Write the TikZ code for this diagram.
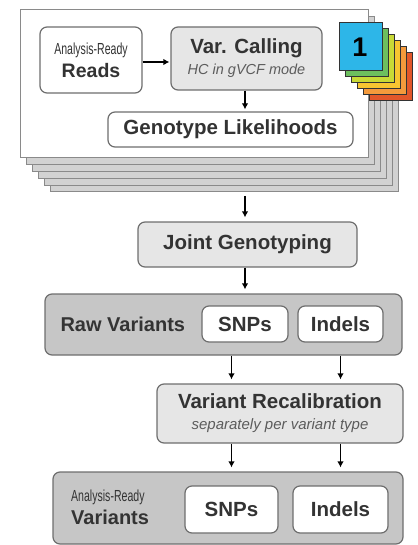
\documentclass[tikz,border=0pt]{standalone}
\usepackage{fontspec}
\setmainfont{Liberation Sans}
\usetikzlibrary{arrows.meta}

\definecolor{ink}{HTML}{333333}
\definecolor{edge}{HTML}{6E6E6E}
\definecolor{lightfill}{HTML}{E6E6E6}
\definecolor{darkfill}{HTML}{C6C6C6}
\definecolor{sheetfill}{HTML}{D2D2D2}
\definecolor{sheetedge}{HTML}{8A8A8A}
\definecolor{tabblue}{HTML}{2DB6E8}
\definecolor{tabgreen}{HTML}{6CBF5E}
\definecolor{tablime}{HTML}{C8D936}
\definecolor{tabyellow}{HTML}{F7C531}
\definecolor{taborange}{HTML}{F49A3C}
\definecolor{tabred}{HTML}{E2572A}

\tikzset{
  box/.style={draw=edge, line width=1.2pt, rounded corners=7pt, text=ink,
              inner sep=0pt, align=center, font=\bfseries\fontsize{20.5}{22}\selectfont},
  whitebox/.style={box, fill=white},
  greybox/.style={box, fill=lightfill},
  panel/.style={box, fill=darkfill},
  flow/.style={line width=1.6pt, -{Latex[length=6pt,width=6.5pt]}, shorten >=4pt},
  sheet/.style={draw=sheetedge, line width=1pt, fill=sheetfill},
  tab/.style={draw=ink, line width=0.7pt},
}
\newcommand{\narrowlabel}[1]{\scalebox{0.66}[1]{\mdseries\fontsize{16}{17}\selectfont #1}}

\begin{document}
\begin{tikzpicture}[x=1pt,y=-1pt]
\useasboundingbox (0,0) rectangle (417,545);

% stack of per-sample sheets, back to front
\foreach \k in {5,4,3,2,1}{
  \draw[sheet] ({20+6*\k},{10+6.8*\k}) rectangle ({368+6*\k},{158+6.8*\k});
}
\draw[draw=sheetedge, line width=1pt, fill=white] (20,10) rectangle (368,158);

% coloured sample tabs
\foreach \k/\c in {5/tabred,4/taborange,3/tabyellow,2/tablime,1/tabgreen}{
  \draw[tab, fill=\c] ({339+6*\k},{22+6*\k}) rectangle ({382+6*\k},{70+6*\k});
}
\draw[tab, fill=tabblue] (339,22) rectangle (382,70);
\node[text=black, font=\bfseries\fontsize{27}{28}\selectfont] (tabone) at (360,47) {1};

% per-sample steps
\node[whitebox, minimum width=102pt, minimum height=66pt] (reads) at (91,60)
  {\narrowlabel{Analysis-Ready}\\[1pt]{\fontsize{19.5}{21}\selectfont Reads}};
\node[greybox, minimum width=151pt, minimum height=63pt] (calling) at (246.5,58.5)
  {Var. Calling\\[-1pt]{\mdseries\itshape\fontsize{14.5}{16}\selectfont\color{ink!80}HC in gVCF mode}};
\node[whitebox, minimum width=245pt, minimum height=35pt] (likely) at (230.5,129.5)
  {Genotype Likelihoods};

% cohort steps
\node[greybox, minimum width=219pt, minimum height=45pt] (joint) at (247.5,244.5)
  {Joint Genotyping};

\node[panel, minimum width=357pt, minimum height=61pt] (raw) at (223.5,324.5) {};
\node[text=ink, font=\bfseries\fontsize{20}{22}\selectfont, anchor=west] (rawlabel) at (57,324.5) {Raw Variants};
\node[whitebox, minimum width=86pt, minimum height=36pt] (rawsnp) at (245,324) {SNPs};
\node[whitebox, minimum width=85pt, minimum height=36pt] (rawindel) at (340.5,324) {Indels};

\node[greybox, minimum width=246pt, minimum height=59pt] (recal) at (280,413.5)
  {Variant Recalibration\\[-1pt]{\mdseries\itshape\fontsize{15}{16}\selectfont\color{ink!80}separately per variant type}};

\node[panel, minimum width=350pt, minimum height=72pt] (final) at (228,508) {};
\node[text=ink, font=\bfseries\fontsize{20}{22}\selectfont, align=left, anchor=west, inner sep=0pt] (finallabel) at (71,507)
  {\narrowlabel{Analysis-Ready}\\[1pt]Variants};
\node[whitebox, minimum width=93pt, minimum height=47pt] (finalsnp) at (231.5,509.5) {SNPs};
\node[whitebox, minimum width=95pt, minimum height=47pt] (finalindel) at (340.5,509.5) {Indels};

% connectors
\coordinate (stackfoot) at (245,196);
\draw[flow, shorten >=1pt] (reads.east |- 0,62) -- (calling.west |- 0,62);
\draw[flow, shorten >=2pt] (calling.south -| 245,0) -- (likely.north -| 245,0);
\draw[flow] (stackfoot) -- (joint.north -| stackfoot);
\draw[flow] (joint.south -| stackfoot) -- (raw.north -| stackfoot);
\draw[flow] (raw.south -| finalsnp.center) -- (recal.north -| finalsnp.center);
\draw[flow] (raw.south -| finalindel.center) -- (recal.north -| finalindel.center);
\draw[flow] (recal.south -| finalsnp.center) -- (final.north -| finalsnp.center);
\draw[flow] (recal.south -| finalindel.center) -- (final.north -| finalindel.center);
\end{tikzpicture}
\end{document}
